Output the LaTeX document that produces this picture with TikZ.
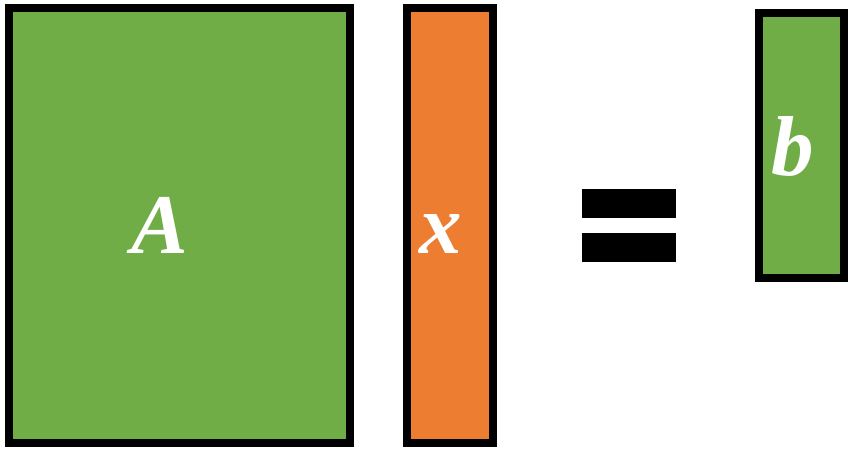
\documentclass[tikz,border=0pt]{standalone}
\usepackage{fontspec}
\setmainfont{Liberation Serif}
\definecolor{mgreen}{HTML}{70AD47}
\definecolor{morange}{HTML}{ED7D31}
\begin{document}
\begin{tikzpicture}[x=1pt,y=-1pt,
  mat/.style={draw=black,line width=8pt,inner sep=0pt,outer sep=0pt},
  bar/.style={fill=black,inner sep=0pt,outer sep=0pt,minimum width=94pt,minimum height=29pt},
  lbl/.style={text=white,font=\fontsize{85}{90}\selectfont\bfseries\itshape,inner sep=0pt,anchor=base}]
\useasboundingbox (0,0) rectangle (848,449);
\node[mat,fill=mgreen,minimum width=341pt,minimum height=435pt] (A) at (179.5,225.5) {};
\node[mat,fill=morange,minimum width=86pt,minimum height=435pt] (X) at (450,225.5) {};
\node[mat,fill=mgreen,minimum width=85pt,minimum height=265pt] (B) at (801.5,145.5) {};
\node[bar] (eq1) at (629,203.5) {};
\node[bar] (eq2) at (629,247.5) {};
\node[lbl] (tA) at (160,253) {A};
\node[lbl] (tX) at (441,253) {x};
\node[lbl] (tB) at (793,176) {b};
\end{tikzpicture}
\end{document}
